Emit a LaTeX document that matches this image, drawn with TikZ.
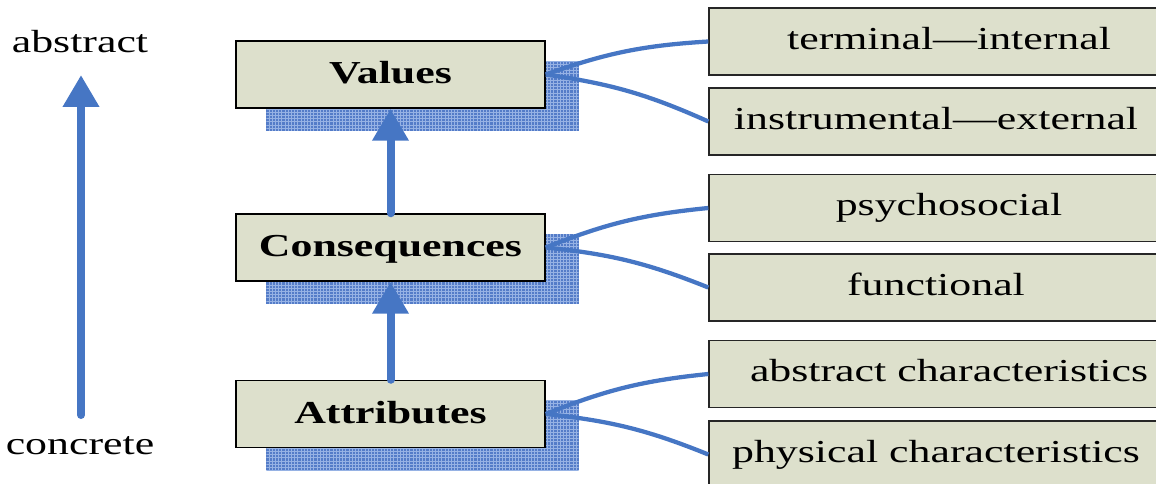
\documentclass[tikz,border=0pt]{standalone}
\usepackage{fontspec}
\setmainfont{Liberation Serif}[FakeStretch=1.37]
\usetikzlibrary{arrows.meta,calc,backgrounds}
\definecolor{boxfill}{RGB}{221,224,204}
\definecolor{linkblue}{RGB}{70,118,196}
\definecolor{shadeblue}{RGB}{84,124,200}
\definecolor{shadegrid}{RGB}{150,178,228}

\begin{document}
\begin{tikzpicture}[x=0.75pt,y=-0.75pt,
  level/.style={draw=black, line width=1.1pt, fill=boxfill,
    minimum width=231.75pt, minimum height=50.25pt, inner sep=0pt,
    text height=17.5pt, text depth=4pt,
    font=\fontsize{24}{28}\selectfont\bfseries},
  facet/.style={draw=black!85, line width=1pt, fill=boxfill,
    minimum width=340.5pt, minimum height=50.25pt, inner sep=0pt,
    text height=16.5pt, text depth=4.5pt,
    font=\fontsize{24}{28}\selectfont},
  word/.style={inner sep=0pt, font=\fontsize{24}{28}\selectfont},
  link/.style={draw=linkblue, line width=3.2pt},
  rise/.style={draw=linkblue, line width=6pt, line cap=round,
    -{Triangle[width=26pt,length=24pt]}},
  shade/.style={fill=shadeblue}
]
\useasboundingbox (0,0) rectangle (1156,484);
\clip (0,0) rectangle (1156,484);

% scale labels and their arrow
\node[word] (abs) at (80,42) {abstract};
\node[word] (con) at (80,446) {concrete};
\coordinate (scalelo) at (81,415);
\coordinate (scalehi) at (81,75);
\draw[rise] (scalelo) -- (scalehi);

% the three levels of the chain
\node[level] (val) at (390.5,74.5) {Values};
\node[level] (csq) at (390.5,247.5) {Consequences};
\node[level] (att) at (390.5,414) {Attributes};

% hatched shadows behind the levels
\begin{scope}[on background layer]
  \foreach \b in {val,csq,att}{
    \fill[shade] ($(\b.north west)+(31,21)$) rectangle ($(\b.south east)+(33,22)$);
    \begin{scope}
      \clip ($(\b.north west)+(31,21)$) rectangle ($(\b.south east)+(33,22)$);
      \draw[shadegrid, line width=0.35pt, step=2.4pt]
        ($(\b.north west)+(28,18)$) grid ($(\b.south east)+(36,25)$);
    \end{scope}
  }
\end{scope}

% facets of each level
\node[facet] (f1) at (936,41.5)  {\hspace*{19.5pt}terminal---internal};
\node[facet] (f2) at (936,121.5) {instrumental---external};
\node[facet] (f3) at (936,208)   {\hspace*{19.5pt}psychosocial};
\node[facet] (f4) at (936,287.5) {functional};
\node[facet] (f5) at (936,374)   {\hspace*{19.5pt}abstract characteristics};
\node[facet] (f6) at (936,454.5) {physical characteristics};

% chain arrows
\draw[rise] (att.north) -- (csq.south);
\draw[rise] (csq.north) -- (val.south);

% links from each level to its facets
\draw[link] (val.east) to[bend left=8] (f1.west);
\draw[link] (val.east) to[bend left=8] (f2.west);
\draw[link] (csq.east) to[bend left=8] (f3.west);
\draw[link] (csq.east) to[bend left=8] (f4.west);
\draw[link] (att.east) to[bend left=8] (f5.west);
\draw[link] (att.east) to[bend left=8] (f6.west);
\end{tikzpicture}
\end{document}
